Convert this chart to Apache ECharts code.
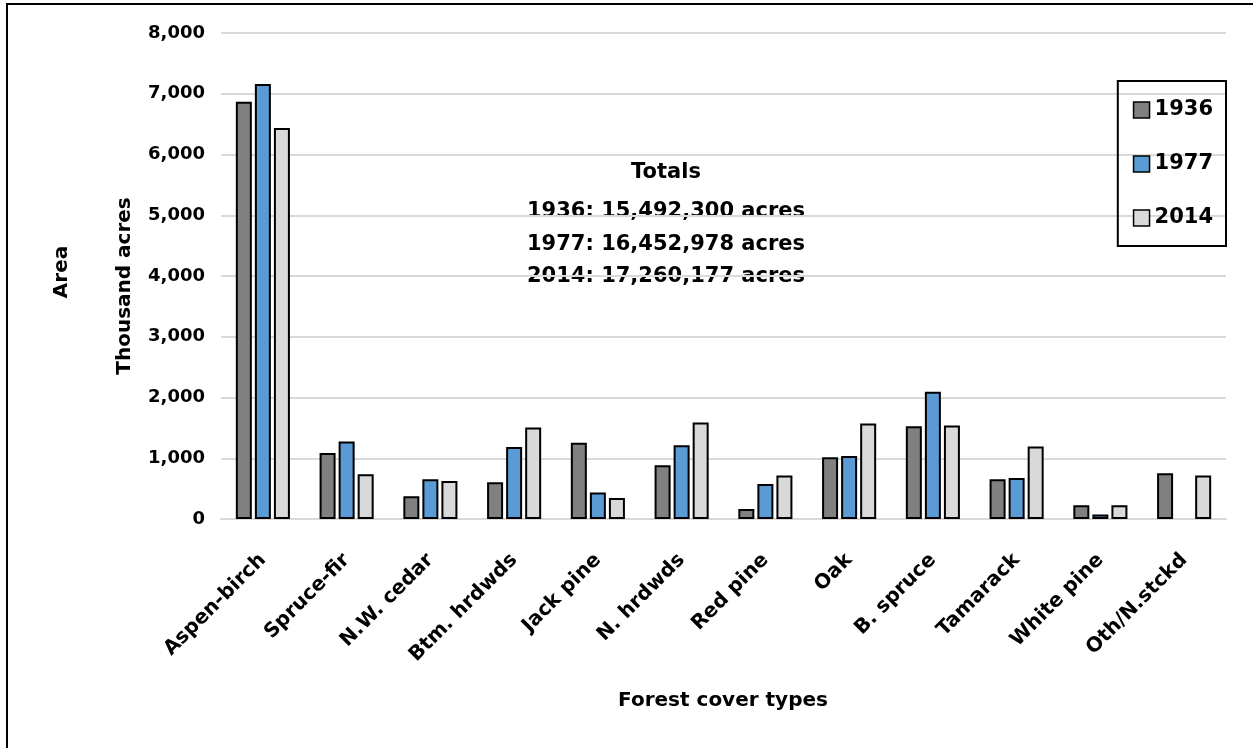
<!DOCTYPE html>
<html><head><meta charset="utf-8">
<script src="https://cdn.jsdelivr.net/npm/echarts@6/dist/echarts.min.js"></script>
<style>html,body{margin:0;padding:0;background:#fff}#c{width:1253px;height:748px}</style>
</head><body><div id="c"></div>
<script>
const categories = ['Aspen-birch','Spruce-fir','N.W. cedar','Btm. hrdwds','Jack pine','N. hrdwds','Red pine','Oak','B. spruce','Tamarack','White pine','Oth/N.stckd'];
const years = ['1936','1977','2014'];
const v1936 = [6870,1085,375,605,1255,885,165,1015,1525,655,225,755];
const v1977 = [7160,1275,655,1185,435,1215,575,1035,2095,675,75,null];
const v2014 = [6435,735,625,1505,345,1590,715,1570,1540,1195,225,715];
const totals = ['Totals','1936: 15,492,300 acres','1977: 16,452,978 acres','2014: 17,260,177 acres'];
const yTicks = {min:0,max:8000,interval:1000};
const colors = ['#808080','#5B9BD5','#D9D9D9'];
const FONT = '"DejaVu Sans"';

const chart = echarts.init(document.getElementById('c'));
const mk = (name, data, i) => ({
  name, type:'bar', data, barWidth:16, barGap:'19%',
  itemStyle:{color:colors[i], borderColor:'#000', borderWidth:2},
  emphasis:{disabled:true}
});
const totY = [173,212,245,277];
chart.setOption({
  animation:false,
  textStyle:{fontFamily:FONT},
  grid:{left:221, right:27, top:33, bottom:229, containLabel:false},
  legend:{
    data:years.map(n=>({name:n, icon:'rect'})), orient:'vertical', right:27, top:81,
    padding:[17,13,16,15], itemGap:30, itemWidth:16, itemHeight:16,
    borderColor:'#000', borderWidth:2,
    itemStyle:{borderColor:'#000', borderWidth:1.5},
    textStyle:{fontSize:21, fontWeight:'bold', color:'#000', fontFamily:FONT, lineHeight:24}
  },
  xAxis:{
    type:'category', data:categories,
    axisLine:{lineStyle:{color:'#D9D9D9', width:2}},
    axisTick:{show:false},
    axisLabel:{rotate:45, fontSize:20, fontWeight:'bold', color:'#000', margin:38, interval:0, fontFamily:FONT}
  },
  yAxis:{
    type:'value', min:yTicks.min, max:yTicks.max, interval:yTicks.interval,
    axisLine:{show:false}, axisTick:{show:false},
    splitLine:{lineStyle:{color:'#D9D9D9', width:2}},
    axisLabel:{fontSize:18, fontWeight:'bold', color:'#000', margin:16, fontFamily:FONT,
      formatter:v=>v.toLocaleString('en-US')}
  },
  graphic:[
    {type:'rect', shape:{x:7,y:4,width:1270,height:770}, style:{fill:'none', stroke:'#000', lineWidth:2}, silent:true},
    {type:'text', x:62, y:272, rotation:Math.PI/2, style:{text:'Area', font:'bold 20px '+FONT, fill:'#000', align:'center', verticalAlign:'middle'}},
    {type:'text', x:125, y:286, rotation:Math.PI/2, style:{text:'Thousand acres', font:'bold 20px '+FONT, fill:'#000', align:'center', verticalAlign:'middle'}},
    {type:'text', x:723, y:701, style:{text:'Forest cover types', font:'bold 20px '+FONT, fill:'#000', align:'center', verticalAlign:'middle'}},
    ...totals.map((t,i)=>({type:'text', x:666, y:totY[i], style:{text:t, font:'bold 21px '+FONT, fill:'#000', align:'center', verticalAlign:'middle'}}))
  ],
  series:[mk(years[0],v1936,0), mk(years[1],v1977,1), mk(years[2],v2014,2)]
});
</script></body></html>
